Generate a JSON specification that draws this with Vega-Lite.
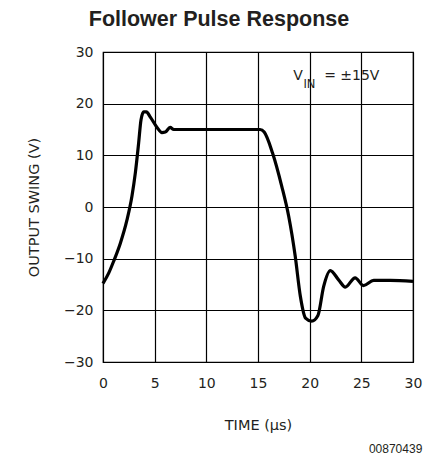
{
  "$schema": "https://vega.github.io/schema/vega-lite/v6.json",
  "width": 310,
  "height": 310,
  "autosize": "none",
  "padding": {"left": 103, "top": 52, "right": 22, "bottom": 100},
  "background": "white",
  "title": {
    "text": "Follower Pulse Response",
    "font": "Liberation Sans",
    "fontSize": 21.5,
    "fontWeight": "bold",
    "color": "#231f20",
    "anchor": "middle",
    "dx": -39,
    "offset": 15
  },
  "config": {
    "view": {"stroke": "black", "strokeWidth": 1.2},
    "axis": {
      "domainColor": "black",
      "gridColor": "black",
      "gridOpacity": 1,
      "gridWidth": 1.2,
      "tickSize": 0,
      "labelFlush": false,
      "labelFont": "Liberation Sans Narrow, DejaVu Sans",
      "labelFontSize": 14,
      "labelColor": "#231f20",
      "titleFont": "DejaVu Sans",
      "titleFontSize": 14.5,
      "titleFontWeight": "normal",
      "titleColor": "#231f20"
    }
  },
  "datasets": {
    "curve": [
      {"t": 0, "v": -14.8},
      {"t": 0.55, "v": -12.8},
      {"t": 1.03, "v": -10.5},
      {"t": 1.68, "v": -7},
      {"t": 2.32, "v": -2.5},
      {"t": 2.8, "v": 2.1},
      {"t": 3.13, "v": 6.6},
      {"t": 3.45, "v": 12.4},
      {"t": 3.68, "v": 16.9},
      {"t": 3.94, "v": 18.4},
      {"t": 4.2, "v": 18.4},
      {"t": 4.58, "v": 17.4},
      {"t": 5.23, "v": 15.4},
      {"t": 5.7, "v": 14.4},
      {"t": 6.03, "v": 14.5},
      {"t": 6.5, "v": 15.4},
      {"t": 6.84, "v": 15},
      {"t": 8.5, "v": 15},
      {"t": 12, "v": 15},
      {"t": 15.2, "v": 15},
      {"t": 15.6, "v": 14.5},
      {"t": 16.4, "v": 10.5},
      {"t": 17.3, "v": 4},
      {"t": 17.97, "v": -1.8},
      {"t": 18.6, "v": -9.5},
      {"t": 19.1, "v": -17.3},
      {"t": 19.6, "v": -21.5},
      {"t": 20.2, "v": -22.1},
      {"t": 20.8, "v": -21},
      {"t": 21.35, "v": -15.4},
      {"t": 22, "v": -12.3},
      {"t": 22.8, "v": -14.1},
      {"t": 23.45, "v": -15.5},
      {"t": 24.4, "v": -13.7},
      {"t": 25.2, "v": -15.2},
      {"t": 26.2, "v": -14.2},
      {"t": 27.8, "v": -14.2},
      {"t": 30, "v": -14.4}
    ],
    "notes": [
      {"t": 18.4, "v": 24.6, "label": "V", "size": 14},
      {"t": 19.4, "v": 23.1, "label": "IN", "size": 11.5},
      {"t": 21.4, "v": 24.6, "label": "= ±15V", "size": 14}
    ],
    "foot": [
      {"t": 30.9, "v": -47.6, "label": "00870439"}
    ]
  },
  "layer": [
    {
      "data": {"name": "curve"},
      "mark": {"type": "line", "color": "black", "strokeWidth": 3.2, "interpolate": "monotone"},
      "encoding": {
        "x": {
          "field": "t",
          "type": "quantitative",
          "scale": {"domain": [0, 30], "nice": false},
          "axis": {"values": [0, 5, 10, 15, 20, 25, 30], "labelPadding": 14, "titlePadding": 28},
          "title": "TIME (μs)"
        },
        "y": {
          "field": "v",
          "type": "quantitative",
          "scale": {"domain": [-30, 30], "nice": false},
          "axis": {"values": [-30, -20, -10, 0, 10, 20, 30], "labelPadding": 10, "titlePadding": 22},
          "title": "OUTPUT SWING (V)"
        }
      }
    },
    {
      "data": {"name": "notes"},
      "mark": {"type": "text", "align": "left", "baseline": "alphabetic", "font": "DejaVu Sans", "color": "#231f20"},
      "encoding": {
        "x": {"field": "t", "type": "quantitative"},
        "y": {"field": "v", "type": "quantitative"},
        "text": {"field": "label"},
        "size": {"field": "size", "type": "quantitative", "scale": null}
      }
    },
    {
      "data": {"name": "foot"},
      "mark": {"type": "text", "align": "right", "baseline": "alphabetic", "font": "Liberation Sans", "fontSize": 12, "color": "#231f20", "clip": false},
      "encoding": {
        "x": {"field": "t", "type": "quantitative"},
        "y": {"field": "v", "type": "quantitative"},
        "text": {"field": "label"}
      }
    }
  ]
}
